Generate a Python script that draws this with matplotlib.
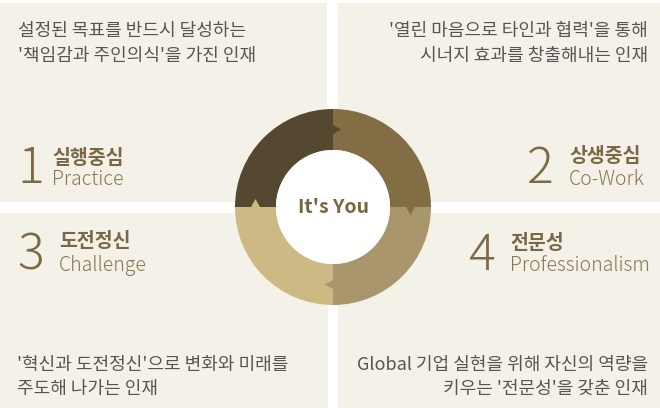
import matplotlib.pyplot as plt
from matplotlib.patches import Rectangle, Wedge, Circle, Polygon
import numpy as np

plt.rcParams['font.family'] = ['Noto Sans CJK KR', 'DejaVu Sans']

# quadrant content (TL, TR, BL, BR)
numbers = ["1", "2", "3", "4"]
titles_ko = ["실행중심", "상생중심", "도전정신", "전문성"]
titles_en = ["Practice", "Co-Work", "Challenge", "Professionalism"]
descs = [
    ["설정된 목표를 반드시 달성하는", "'책임감과 주인의식'을 가진 인재"],
    ["'열린 마음으로 타인과 협력'을 통해", "시너지 효과를 창출해내는 인재"],
    ["'혁신과 도전정신'으로 변화와 미래를", "주도해 나가는 인재"],
    ["Global 기업 실현을 위해 자신의 역량을", "키우는 '전문성'을 갖춘 인재"],
]
center_label = "It's You"
ring_colors = ["#544830", "#836d44", "#aa966c", "#cdb984"]  # TL, TR, BR, BL (clockwise)

bg = "#f4f1e9"
num_color = "#7d6a45"
title_color = "#7a6744"
en_color = "#8a7651"
text_color = "#555555"
light_font = ['Noto Sans CJK JP', 'DejaVu Sans']

fig = plt.figure(figsize=(6.6, 4.08), dpi=100)
ax = fig.add_axes([0, 0, 1, 1])
ax.set_xlim(0, 660)
ax.set_ylim(408, 0)
ax.axis('off')

# background panels
panels = [(0, 3, 327, 199), (338, 3, 322, 199), (0, 213, 328, 195), (338, 213, 322, 195)]
for x, y, w, h in panels:
    ax.add_patch(Rectangle((x, y), w, h, facecolor=bg, edgecolor='none'))

# ring
cx, cy, r_out, r_in = 333, 207, 98, 57
starts = [180, 270, 0, 90]
for th, col in zip(starts, ring_colors):
    ax.add_patch(Wedge((cx, cy), r_out, th, th + 90, width=r_out - r_in, facecolor=col, edgecolor='none'))

# small arrow heads at the segment joins, pointing clockwise
rm = (r_out + r_in) / 2
for th, col in zip(starts, ring_colors):
    a = np.radians(th + 90)
    px, py = cx + rm * np.cos(a), cy + rm * np.sin(a)
    tx, ty = -np.sin(a), np.cos(a)
    nx, ny = np.cos(a), np.sin(a)
    tri = [(px + 4.5 * nx, py + 4.5 * ny), (px - 4.5 * nx, py - 4.5 * ny), (px + 8 * tx, py + 8 * ty)]
    ax.add_patch(Polygon(tri, closed=True, facecolor=col, edgecolor='none'))

ax.add_patch(Circle((cx, cy), r_in, facecolor='white', edgecolor='none'))
ax.text(cx, 213, center_label, ha='center', va='baseline', fontsize=14, fontweight='bold', color="#7a6540")

# quadrant texts
layout = [
    # num x, num baseline, title x, title baseline, en baseline, align, desc x, desc baselines
    (17, 183, 52, 164, 185, 'left', 18, (36, 61)),
    (554, 183, 569, 162, 185, 'right', 648, (36, 61)),
    (17, 270, 59, 247, 271, 'left', 17, (370, 394)),
    (496, 270, 510, 249, 271, 'right', 648, (370, 394)),
]
for i, (nx_, ny_, tx_, ty_, ey, al, dx, dys) in enumerate(layout):
    ax.text(nx_, ny_, numbers[i], ha='right' if al == 'right' else 'left', va='baseline',
            fontsize=36, fontweight=300, color=num_color, family=light_font)
    ax.text(tx_, ty_, titles_ko[i], ha='left', va='baseline', fontsize=14, fontweight='bold', color=title_color)
    ax.text(tx_, ey, titles_en[i], ha='left', va='baseline', fontsize=14, fontweight=300, color=en_color,
            family=light_font)
    for line, dy in zip(descs[i], dys):
        ax.text(dx, dy, line, ha=al, va='baseline', fontsize=13, color=text_color)

fig.savefig("out.png", dpi=100)
